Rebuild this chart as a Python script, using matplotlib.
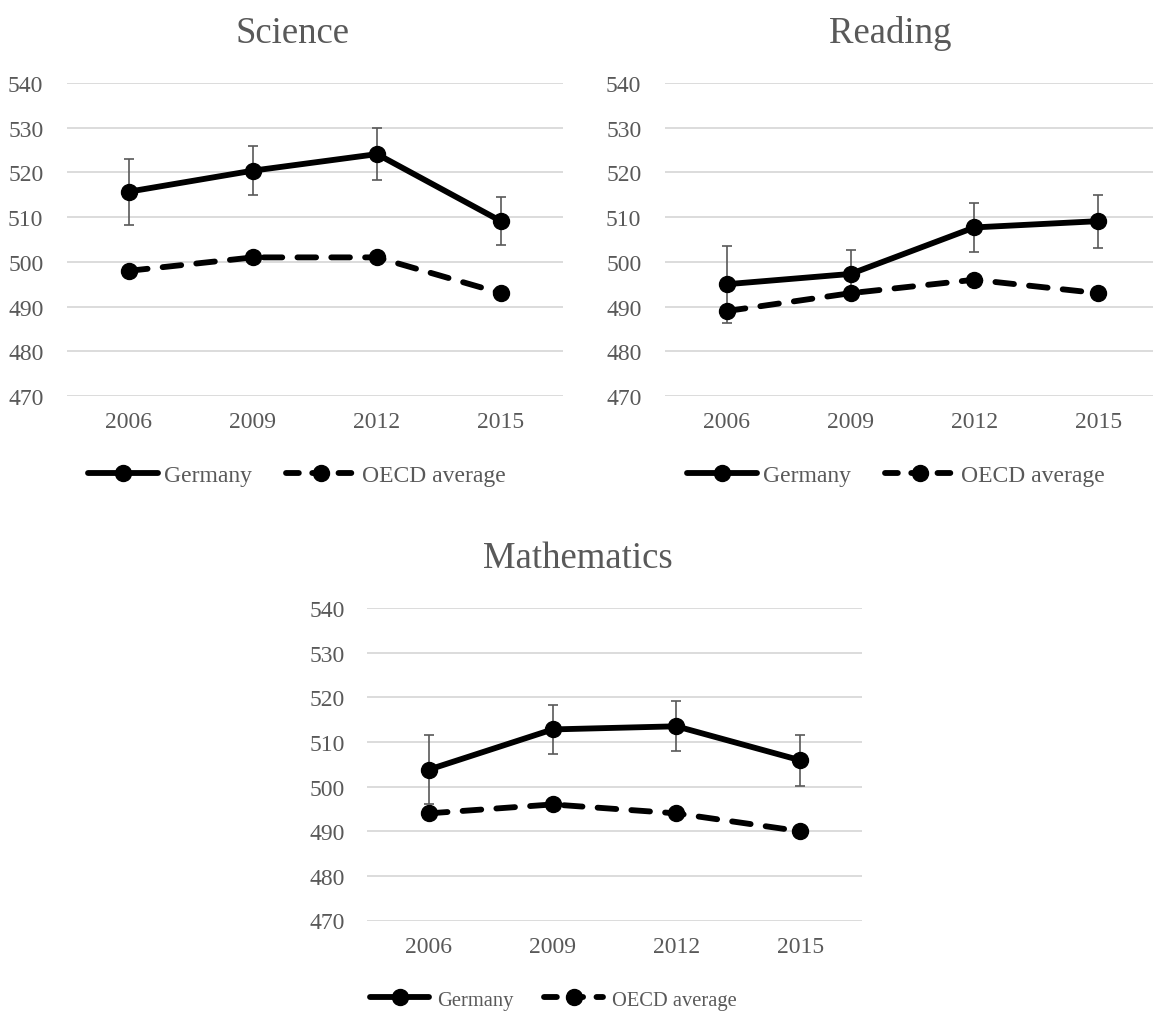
import matplotlib
matplotlib.use("Agg")
import matplotlib.pyplot as plt
from matplotlib.lines import Line2D

# PISA mean scores, Germany vs. OECD average
years = ["2006", "2009", "2012", "2015"]

science_germany = [515.7, 520.4, 524.1, 509.1]
science_germany_err = [7.4, 5.45, 5.75, 5.3]
science_oecd = [498, 501, 501, 493]

reading_germany = [495.0, 497.3, 507.7, 509.1]
reading_germany_err = [8.6, 5.3, 5.45, 5.9]
reading_oecd = [489, 493, 496, 493]

math_germany = [503.8, 512.8, 513.5, 505.9]
math_germany_err = [7.65, 5.55, 5.6, 5.75]
math_oecd = [494, 496, 494, 490]

y_ticks = [470, 480, 490, 500, 510, 520, 530, 540]

W, H = 1153, 1012
TEXT = "#595959"
GRID = "#d9d9d9"
FONT = "Liberation Serif"
LW = 4.2
MS = 11.5

plt.rcParams["font.family"] = [FONT, "DejaVu Serif"]

fig = plt.figure(figsize=(W / 100, H / 100), dpi=100)
fig.patch.set_facecolor("white")


def px_axes(left, right, top, bottom):
    return fig.add_axes([left / W, 1 - bottom / H, (right - left) / W, (bottom - top) / H])


def panel(ax, germany, err, oecd, ypad):
    x = list(range(len(years)))
    ax.set_xlim(-0.5, len(years) - 0.5)
    ax.set_ylim(y_ticks[0], y_ticks[-1])
    ax.set_yticks(y_ticks)
    ax.set_xticks(x)
    ax.set_xticklabels(years)
    for s in ax.spines.values():
        s.set_visible(False)
    ax.grid(axis="y", color=GRID, linewidth=1.3, zorder=0)
    ax.set_axisbelow(True)
    ax.tick_params(axis="both", length=0, labelsize=17, labelcolor=TEXT)
    ax.tick_params(axis="x", pad=11)
    ax.tick_params(axis="y", pad=ypad)

    ax.errorbar(x, germany, yerr=err, fmt="none", ecolor=TEXT, elinewidth=1.2,
                capsize=3.8, capthick=1.2, zorder=2)
    ax.plot(x, germany, color="black", lw=LW, marker="o", ms=MS,
            solid_capstyle="round", zorder=3)
    ax.plot(x, oecd, color="black", lw=LW, marker="o", ms=MS,
            linestyle=(0, (3.2, 2.6)), dash_capstyle="round", zorder=3)


def legend_handles():
    g = Line2D([], [], color="black", lw=LW, marker="o", ms=MS,
               solid_capstyle="round", label="Germany")
    o = Line2D([], [], color="black", lw=LW, marker="o", ms=MS,
               linestyle=(0, (2.2, 2.3)), dash_capstyle="round",
               label="OECD average")
    return [g, o]


def add_legend(cx, cy, size, hlen, tpad=0.25):
    handles = legend_handles()
    fig.legend(handles, [h.get_label() for h in handles], loc="center",
               bbox_to_anchor=(cx / W, 1 - cy / H), ncol=2, frameon=False,
               prop={"family": FONT, "size": size}, labelcolor=TEXT,
               handlelength=hlen, handletextpad=tpad, columnspacing=1.45,
               borderaxespad=0, borderpad=0)


# Science
ax_s = px_axes(67, 563, 84, 397)
panel(ax_s, science_germany, science_germany_err, science_oecd, 17)
fig.text(292 / W, 1 - 43 / H, "Science", ha="center", va="baseline",
         fontsize=26.5, color=TEXT)
add_legend(297, 476, 17, 2.95)

# Reading
ax_r = px_axes(665, 1160, 84, 397)
panel(ax_r, reading_germany, reading_germany_err, reading_oecd, 17)
fig.text(890 / W, 1 - 43 / H, "Reading", ha="center", va="baseline",
         fontsize=26.5, color=TEXT)
add_legend(896, 476, 17, 2.95)

# Mathematics
ax_m = px_axes(367, 862, 609, 921.5)
panel(ax_m, math_germany, math_germany_err, math_oecd, 16)
fig.text(578 / W, 1 - 568 / H, "Mathematics", ha="center", va="baseline",
         fontsize=26.5, color=TEXT)
add_legend(553, 1001, 14.8, 2.9, tpad=0.4)

fig.savefig("out.png", dpi=100, facecolor="white")
